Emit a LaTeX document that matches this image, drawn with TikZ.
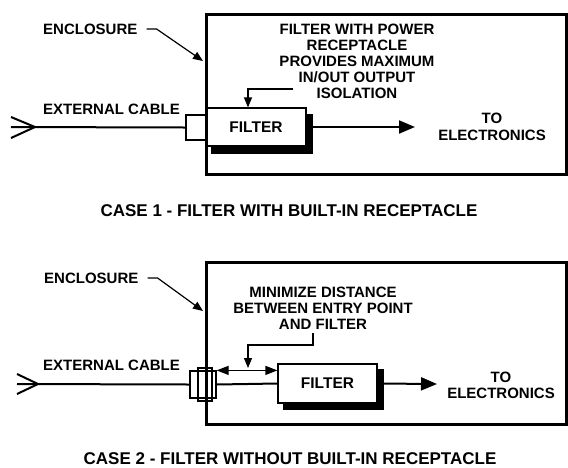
\documentclass[tikz,border=0pt]{standalone}
\usepackage{fontspec}
\setmainfont{Liberation Sans}
\usepackage{tikz}
\usetikzlibrary{arrows.meta, positioning, backgrounds}

\begin{document}
\begin{tikzpicture}[x=1pt, y=-1pt,
  lbl/.style={font=\fontsize{15}{16}\selectfont\bfseries, inner sep=0pt},
  ttl/.style={font=\fontsize{17}{18}\selectfont\bfseries, inner sep=0pt},
  encl/.style={draw, line width=3pt, minimum width=360pt, inner sep=0pt},
  filterbox/.style={draw, fill=white, line width=1.2pt, inner sep=0pt,
    font=\fontsize{15.5}{17}\selectfont\bfseries},
  jack/.style={draw, fill=white, line width=1.2pt, inner sep=0pt},
  cable/.style={line width=2pt},
  feed/.style={line width=2pt, -{Triangle[length=16pt,width=13pt]}},
  leader/.style={line width=1.2pt, -{Triangle[length=10pt,width=8pt]}},
  spread/.style={line width=1.2pt, {Triangle[length=12pt,width=9pt]}-{Triangle[length=12pt,width=9pt]}}]
\useasboundingbox (0,0) rectangle (568,467);

% case 1
\node[filterbox, minimum width=100pt, minimum height=38pt] (filt1) at (256,127) {FILTER};
\node[jack, minimum width=20pt, minimum height=25pt] (jack1) at (196,127.5) {};
\node[encl, minimum height=160pt] (encl1) at (386,94) {};
\node[lbl, anchor=west] (enc1) at (43,29) {ENCLOSURE};
\node[lbl, anchor=west] (ext1) at (43,109) {EXTERNAL CABLE};
\node[lbl, align=center] (note1) at (357,61) {FILTER WITH POWER\\RECEPTACLE\\PROVIDES MAXIMUM\\IN/OUT OUTPUT\\ISOLATION};
\node[lbl, align=center] (to1) at (492,127) {TO\\[1pt]ELECTRONICS};
\node[ttl] (title1) at (289,211) {CASE 1 - FILTER WITH BUILT-IN RECEPTACLE};
\coordinate (plug1) at (35,127);
\coordinate (cab1) at (11,127);
\coordinate (wall1) at (203,61);
\coordinate (n1) at (293,89);
\coordinate (out1) at (415,127);
\begin{scope}[on background layer]
\fill ([shift={(6pt,-7pt)}]filt1.south west) rectangle ([shift={(6pt,-7pt)}]filt1.north east);
\end{scope}
\draw[cable] (cab1) -- (jack1.west);
\draw[cable] (11,117) -- (plug1) -- (11,138);
\draw[feed] (filt1.east) -- (out1);
\draw[leader] ([xshift=9pt]enc1.east) -- ++(10,0) -- (wall1);
\draw[leader] (n1) -| ([xshift=-8pt]filt1.north);

% case 2
\node[filterbox, minimum width=99pt, minimum height=39pt] (filt2) at (327.5,383.5) {FILTER};
\node[jack, minimum width=26pt, minimum height=27pt] (jack2) at (203,384.5) {};
\draw[line width=1.2pt] (198,368) rectangle (212,401);
\node[encl, minimum height=162pt] (encl2) at (386,343) {};
\node[lbl, anchor=west] (enc2) at (44,278) {ENCLOSURE};
\node[lbl, anchor=west] (ext2) at (43,365) {EXTERNAL CABLE};
\node[lbl, align=center] (note2) at (323,308) {MINIMIZE DISTANCE\\BETWEEN ENTRY POINT\\AND FILTER};
\node[lbl, align=center] (to2) at (501,385) {TO\\ELECTRONICS};
\node[ttl] (title2) at (290,459) {CASE 2 - FILTER WITHOUT BUILT-IN RECEPTACLE};
\coordinate (plug2) at (38,384);
\coordinate (cab2) at (17,384);
\coordinate (wall2) at (203,311);
\coordinate (n2) at (313,333);
\coordinate (gap2) at (248,368);
\coordinate (out2) at (437,384);
\begin{scope}[on background layer]
\fill ([shift={(6pt,-6pt)}]filt2.south west) rectangle ([shift={(6pt,-6pt)}]filt2.north east);
\end{scope}
\draw[cable] (cab2) -- (jack2.west);
\draw[cable] (17,374) -- (plug2) -- (17,394);
\draw[cable] (jack2.east) -- (filt2.west);
\draw[feed] (filt2.east) -- (out2);
\draw[spread] (jack2.north east) -- (jack2.north -| filt2.west);
\draw[leader] ([xshift=9pt]enc2.east) -- ++(10,0) -- (wall2);
\draw[leader] (n2) -- ++(0,12) -| (gap2);
\end{tikzpicture}
\end{document}
